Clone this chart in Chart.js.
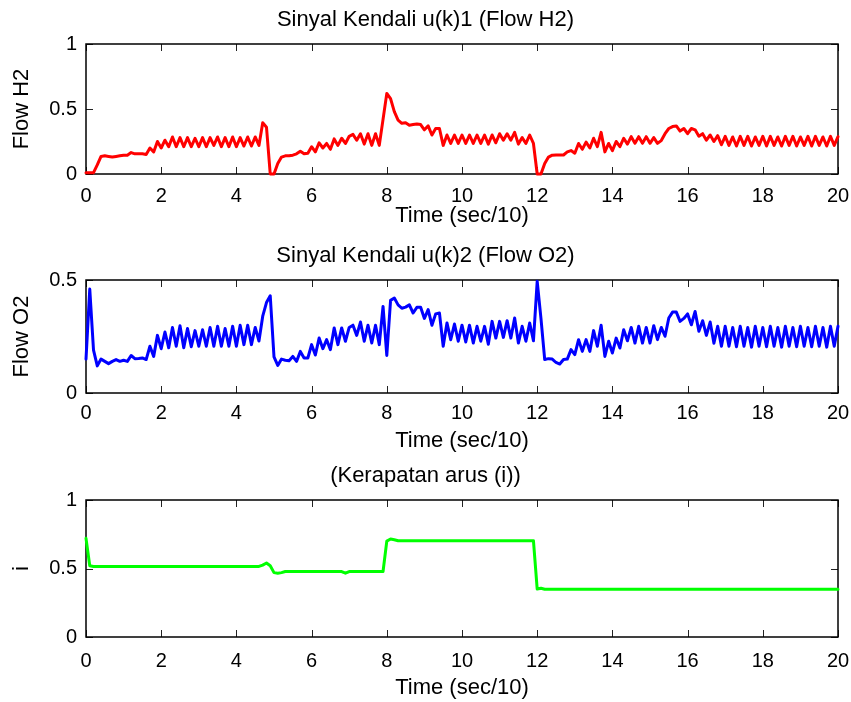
<!DOCTYPE html>
<html>
<head>
<meta charset="utf-8">
<script src="https://cdn.jsdelivr.net/npm/chart.js@4.4.1/dist/chart.umd.min.js"></script>
<style>
  body { margin: 0; background: #fff; }
  canvas { position: absolute; left: 0; }
</style>
</head>
<body>
<canvas id="c1" width="851" height="236" style="top:0px"></canvas>
<canvas id="c2" width="851" height="220" style="top:236px"></canvas>
<canvas id="c3" width="851" height="246" style="top:456px"></canvas>
<script>
// sampled every 0.1 (sec/10), t = 0 .. 20
const sampleStep = 0.1;

// u(k)1 - flow H2
const h2Flow = [
  0.01, 0.01, 0.01, 0.07, 0.135, 0.14, 0.135, 0.13, 0.135, 0.14,
  0.145, 0.145, 0.165, 0.155, 0.155, 0.155, 0.15, 0.20, 0.17, 0.25,
  0.20, 0.26, 0.21, 0.285, 0.21, 0.28, 0.21, 0.28, 0.21, 0.275,
  0.21, 0.28, 0.21, 0.28, 0.22, 0.285, 0.21, 0.28, 0.21, 0.285,
  0.21, 0.28, 0.215, 0.285, 0.215, 0.285, 0.22, 0.395, 0.36, 0.0,
  0.0, 0.08, 0.13, 0.14, 0.14, 0.145, 0.155, 0.175, 0.155, 0.16,
  0.21, 0.17, 0.24, 0.20, 0.235, 0.19, 0.27, 0.22, 0.275, 0.235,
  0.29, 0.305, 0.26, 0.31, 0.23, 0.31, 0.22, 0.31, 0.22, 0.42,
  0.62, 0.58, 0.48, 0.415, 0.39, 0.395, 0.375, 0.38, 0.385, 0.38,
  0.34, 0.37, 0.30, 0.35, 0.35, 0.22, 0.30, 0.235, 0.30, 0.235,
  0.30, 0.235, 0.30, 0.235, 0.30, 0.235, 0.30, 0.23, 0.30, 0.24,
  0.31, 0.26, 0.31, 0.26, 0.32, 0.23, 0.28, 0.235, 0.30, 0.235,
  0.0, 0.0, 0.08, 0.13, 0.145, 0.146, 0.146, 0.146, 0.17, 0.18,
  0.16, 0.235, 0.19, 0.245, 0.20, 0.275, 0.21, 0.32, 0.17, 0.235,
  0.18, 0.25, 0.21, 0.275, 0.23, 0.287, 0.236, 0.287, 0.236, 0.287,
  0.236, 0.28, 0.236, 0.257, 0.31, 0.35, 0.365, 0.37, 0.33, 0.35,
  0.31, 0.35, 0.34, 0.29, 0.31, 0.26, 0.30, 0.25, 0.295, 0.225,
  0.29, 0.22, 0.285, 0.215, 0.29, 0.22, 0.29, 0.215, 0.285, 0.22,
  0.29, 0.215, 0.29, 0.22, 0.285, 0.215, 0.29, 0.22, 0.29, 0.215,
  0.285, 0.22, 0.29, 0.215, 0.29, 0.22, 0.285, 0.215, 0.29, 0.22,
  0.287
];

// u(k)2 - flow O2
const o2Flow = [
  0.15, 0.46, 0.19, 0.12, 0.15, 0.14, 0.13, 0.14, 0.148, 0.14,
  0.145, 0.14, 0.166, 0.152, 0.153, 0.155, 0.148, 0.207, 0.162, 0.255,
  0.196, 0.27, 0.20, 0.29, 0.207, 0.298, 0.20, 0.285, 0.205, 0.276,
  0.207, 0.28, 0.207, 0.29, 0.207, 0.295, 0.207, 0.285, 0.207, 0.295,
  0.207, 0.30, 0.214, 0.30, 0.214, 0.29, 0.23, 0.34, 0.40, 0.43,
  0.16, 0.122, 0.15, 0.145, 0.143, 0.162, 0.14, 0.184, 0.155, 0.155,
  0.214, 0.168, 0.243, 0.196, 0.236, 0.192, 0.288, 0.214, 0.288, 0.229,
  0.29, 0.30, 0.255, 0.314, 0.229, 0.30, 0.221, 0.30, 0.214, 0.383,
  0.166, 0.41, 0.42, 0.39, 0.375, 0.38, 0.39, 0.354, 0.379, 0.379,
  0.33, 0.369, 0.30, 0.35, 0.354, 0.207, 0.31, 0.236, 0.305, 0.229,
  0.30, 0.226, 0.30, 0.221, 0.295, 0.229, 0.295, 0.216, 0.317, 0.243,
  0.317, 0.246, 0.32, 0.243, 0.332, 0.221, 0.295, 0.229, 0.31, 0.231,
  0.494, 0.33, 0.148, 0.152, 0.15, 0.135, 0.128, 0.148, 0.15, 0.192,
  0.17, 0.236, 0.184, 0.236, 0.184, 0.276, 0.207, 0.30, 0.162, 0.229,
  0.177, 0.243, 0.199, 0.28, 0.231, 0.29, 0.221, 0.295, 0.221, 0.29,
  0.221, 0.298, 0.236, 0.29, 0.251, 0.332, 0.358, 0.358, 0.317, 0.33,
  0.35, 0.302, 0.361, 0.273, 0.32, 0.255, 0.314, 0.22, 0.295, 0.207,
  0.295, 0.207, 0.29, 0.205, 0.295, 0.207, 0.29, 0.203, 0.295, 0.207,
  0.29, 0.205, 0.295, 0.207, 0.29, 0.203, 0.295, 0.207, 0.29, 0.205,
  0.295, 0.207, 0.29, 0.205, 0.295, 0.207, 0.29, 0.203, 0.295, 0.207,
  0.295
];

// kerapatan arus (i): breakpoints only, it is piecewise flat
const iTime  = [0, 0.1, 0.2, 4.6, 4.7, 4.8, 4.9, 5.0, 5.1, 5.2, 5.3, 6.8, 6.9, 7.0, 7.9, 8.0, 8.1, 8.2, 8.3, 11.9, 12.0, 12.1, 12.2, 20];
const iValue = [0.72, 0.52, 0.515, 0.515, 0.525, 0.54, 0.52, 0.47, 0.466, 0.47, 0.478, 0.478, 0.466, 0.478, 0.478, 0.70, 0.715, 0.71, 0.703, 0.703, 0.35, 0.356, 0.349, 0.349];

const xTicks = [0, 2, 4, 6, 8, 10, 12, 14, 16, 18, 20];

const time = h2Flow.map((_, k) => +(k * sampleStep).toFixed(1));
const toXY = (xs, ys) => ys.map((v, k) => ({x: xs[k], y: v}));

const FAMILY = '"Liberation Sans", Arial, sans-serif';
const TICK_FONT = {family: FAMILY, size: 20};
const LABEL_FONT = {family: FAMILY, size: 22, weight: 'normal'};

// matlab style: full box + inward ticks
const axesBox = {
  id: 'axesBox',
  beforeDatasetsDraw(chart) {
    const {ctx, chartArea: a, scales: {x, y}} = chart;
    ctx.save();
    ctx.strokeStyle = '#222';
    ctx.lineWidth = 1;
    ctx.beginPath();
    x.ticks.forEach(t => {
      const px = Math.round(x.getPixelForValue(t.value)) + 0.5;
      ctx.moveTo(px, a.bottom); ctx.lineTo(px, a.bottom - 7);
      ctx.moveTo(px, a.top); ctx.lineTo(px, a.top + 7);
    });
    y.ticks.forEach(t => {
      const py = Math.round(y.getPixelForValue(t.value)) + 0.5;
      ctx.moveTo(a.left, py); ctx.lineTo(a.left + 7, py);
      ctx.moveTo(a.right, py); ctx.lineTo(a.right - 7, py);
    });
    ctx.stroke();
    ctx.strokeStyle = '#000';
    ctx.lineWidth = 1.5;
    ctx.strokeRect(a.left, a.top, a.right - a.left, a.bottom - a.top);
    ctx.restore();
  }
};

function makePlot(id, opt) {
  new Chart(document.getElementById(id), {
    type: 'line',
    data: {
      datasets: [{
        data: opt.data,
        borderColor: opt.color,
        borderWidth: 3,
        borderJoinStyle: 'round',
        borderCapStyle: 'round',
        pointRadius: 0,
        tension: 0,
        clip: false
      }]
    },
    options: {
      responsive: false,
      animation: false,
      devicePixelRatio: 1,
      layout: {padding: 0},
      plugins: {
        legend: {display: false},
        tooltip: {enabled: false},
        title: {
          display: true,
          text: opt.title,
          color: '#000',
          font: LABEL_FONT,
          padding: {top: 7, bottom: 10.6}
        }
      },
      scales: {
        x: {
          type: 'linear',
          min: 0, max: 20,
          afterBuildTicks: s => { s.ticks = xTicks.map(v => ({value: v})); },
          afterFit: s => { s.height = opt.xHeight; s.paddingLeft = 0; s.paddingRight = 13; },
          grid: {display: false, drawTicks: false},
          border: {display: false},
          ticks: {color: '#000', font: TICK_FONT, padding: opt.tickPad, maxRotation: 0},
          title: {display: true, text: 'Time (sec/10)', color: '#000', font: LABEL_FONT, padding: {top: 0, bottom: opt.titlePad}}
        },
        y: {
          min: 0, max: opt.yMax,
          afterBuildTicks: s => { s.ticks = opt.yTicks.map(v => ({value: v})); },
          afterFit: s => { s.width = 86; },
          grid: {display: false, drawTicks: false},
          border: {display: false},
          ticks: {color: '#000', font: TICK_FONT, padding: 9, callback: v => String(v)},
          title: {display: true, text: opt.yLabel, color: '#000', font: LABEL_FONT, padding: {top: 9, bottom: 0}}
        }
      }
    },
    plugins: [axesBox]
  });
}

makePlot('c1', {
  title: 'Sinyal Kendali u(k)1 (Flow H2)', yLabel: 'Flow H2',
  data: toXY(time, h2Flow), color: '#ff0000',
  yMax: 1, yTicks: [0, 0.5, 1], xHeight: 62, tickPad: 10, titlePad: 6.8
});
makePlot('c2', {
  title: 'Sinyal Kendali u(k)2 (Flow O2)', yLabel: 'Flow O2',
  data: toXY(time, o2Flow), color: '#0000ff',
  yMax: 0.5, yTicks: [0, 0.5], xHeight: 63, tickPad: 8, titlePad: 1.8
});
makePlot('c3', {
  title: '(Kerapatan arus (i))', yLabel: 'i',
  data: toXY(iTime, iValue), color: '#00ff00',
  yMax: 1, yTicks: [0, 0.5, 1], xHeight: 65, tickPad: 12, titlePad: 0.8
});
</script>
</body>
</html>
